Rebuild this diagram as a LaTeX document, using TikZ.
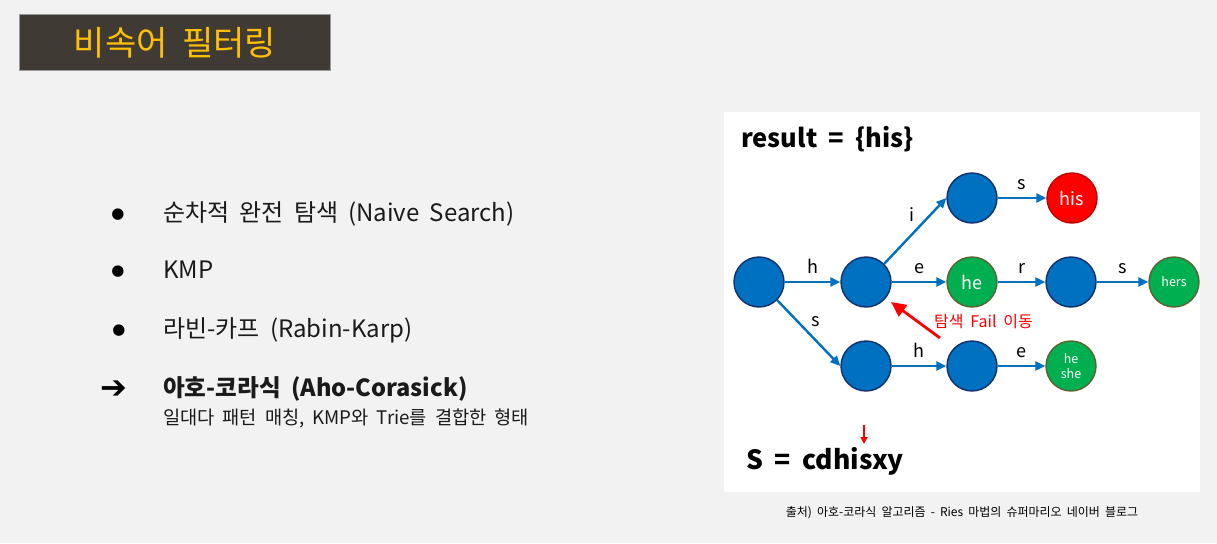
\documentclass[tikz,border=0pt]{standalone}
\usepackage{fontspec}
\setmainfont{Noto Sans CJK KR}[WordSpace=1.9]
\newfontfamily\symfont{DejaVu Sans}
\usetikzlibrary{arrows.meta,positioning}
\definecolor{pagebg}{HTML}{F2F2F2}
\definecolor{titlebg}{HTML}{403A35}
\definecolor{titlefg}{HTML}{FFC000}
\definecolor{nodeblue}{HTML}{0070C0}
\definecolor{nodeedge}{HTML}{13306B}
\definecolor{nodegreen}{HTML}{00B050}
\definecolor{greenedge}{HTML}{5B6330}
\definecolor{nodered}{HTML}{FF0000}
\definecolor{rededge}{HTML}{C00000}
\definecolor{bodytext}{HTML}{1A1A1A}
\tikzset{
  state/.style={circle, minimum size=50pt, inner sep=0pt, line width=1.4pt, fill=nodeblue, draw=nodeedge},
  acc/.style={state, fill=nodegreen, draw=greenedge, text=white},
  hit/.style={state, fill=nodered, draw=rededge, text=white},
  trans/.style={draw=nodeblue, line width=2.4pt, -{Triangle[length=10pt,width=9pt]}},
  lbl/.style={font=\fontsize{18}{20}\selectfont, text=black, inner sep=0pt},
  item/.style={anchor=base west, inner sep=0pt, text=bodytext, font=\fontsize{24}{28}\selectfont},
  bulletsym/.style={anchor=center, inner sep=0pt, text=black, font=\symfont\fontsize{15}{15}\selectfont}
}
\begin{document}
\begin{tikzpicture}[x=1pt,y=-1pt]
\fill[pagebg] (0,0) rectangle (1217,543);
\useasboundingbox (0,0) rectangle (1217,543);

% title bar
\node[anchor=north west, fill=titlebg, draw=gray!80, line width=0.6pt,
      minimum width=311pt, minimum height=56pt, inner sep=0pt,
      text=titlefg, font=\fontsize{34}{36}\selectfont] (title) at (19,14) {비속어 필터링};

% list of methods
\node[bulletsym] (b1) at (118,215) {●};
\node[item] (t1) at (163,221) {순차적 완전 탐색 (Naive Search)};
\node[bulletsym] (b2) at (118,272) {●};
\node[item] (t2) at (163,278) {KMP};
\node[bulletsym] (b3) at (119,331) {●};
\node[item] (t3) at (163,337) {라빈-카프 (Rabin-Karp)};
\node[bulletsym, font=\symfont\bfseries\fontsize{32}{32}\selectfont] (b4) at (114,390) {➔};
\node[item, font=\bfseries\fontsize{23.6}{28}\selectfont] (t4) at (163,396) {아호-코라식 (Aho-Corasick)};
\node[item, font=\fontsize{18.7}{22}\selectfont] (t5) at (163,424) {일대다 패턴 매칭, KMP와 Trie를 결합한 형태};

% trie panel
\fill[white] (724,112) rectangle (1200,492);
\node[anchor=base west, inner sep=0pt, font=\bfseries\fontsize{25.5}{30}\selectfont] (res) at (741,147) {result = \{his\}};

\node[state] (root) at (759,282) {};
\node[state] (h)    at (866,282) {};
\node[state] (hi)   at (972,198) {};
\node[hit, font=\fontsize{18}{19}\selectfont]  (his)  at (1072,198) {his};
\node[acc, font=\fontsize{18}{19}\selectfont]  (he)   at (972,282) {he};
\node[state] (her)  at (1071,282) {};
\node[acc, font=\fontsize{12.5}{13}\selectfont]  (hers) at (1174,282) {hers};
\node[state] (s)    at (866,366) {};
\node[state] (sh)   at (972,366) {};
\node[acc, font=\fontsize{12.5}{14.5}\selectfont, align=center] (she) at (1071,366) {he\\she};

\draw[trans] (root) -- node[lbl, above=7pt] {h} (h);
\draw[trans] (h) -- node[lbl, above=7pt] {e} (he);
\draw[trans] (he) -- node[lbl, above=7pt] {r} (her);
\draw[trans] (her) -- node[lbl, above=7pt] {s} (hers);
\draw[trans] (h.45) -- node[lbl, xshift=-3.5pt, yshift=16pt] {i} (hi.west);
\draw[trans] (hi) -- node[lbl, above=7pt] {s} (his);
\draw[trans] (root.-45) -- node[lbl, xshift=7pt, yshift=11pt] {s} (s.west);
\draw[trans] (s) -- node[lbl, above=7pt] {h} (sh);
\draw[trans] (sh) -- node[lbl, above=7pt] {e} (she);

% failure link
\coordinate (failstart) at (940,338);
\draw[red, line width=2.8pt, -{Triangle[length=15pt,width=14pt]}] (failstart) -- (891,302);
\node[anchor=base west, inner sep=0pt, text=red, font=\fontsize{16}{18}\selectfont] (failtxt) at (934,327) {탐색 Fail 이동};

% input string with cursor
\coordinate (cursor) at (864,425);
\node[anchor=base west, inner sep=0pt, font=\bfseries\fontsize{26.5}{30}\selectfont] (input) at (746,469) {S = cdhisxy};
\draw[red, line width=1.8pt, -{Triangle[length=7pt,width=7pt]}] (cursor) -- (864,444);

% source note
\node[anchor=base, inner sep=0pt, font=\fontsize{12}{13}\selectfont] (src) at (962,516) {출처) 아호-코라식 알고리즘 - Ries 마법의 슈퍼마리오 네이버 블로그};
\end{tikzpicture}
\end{document}
